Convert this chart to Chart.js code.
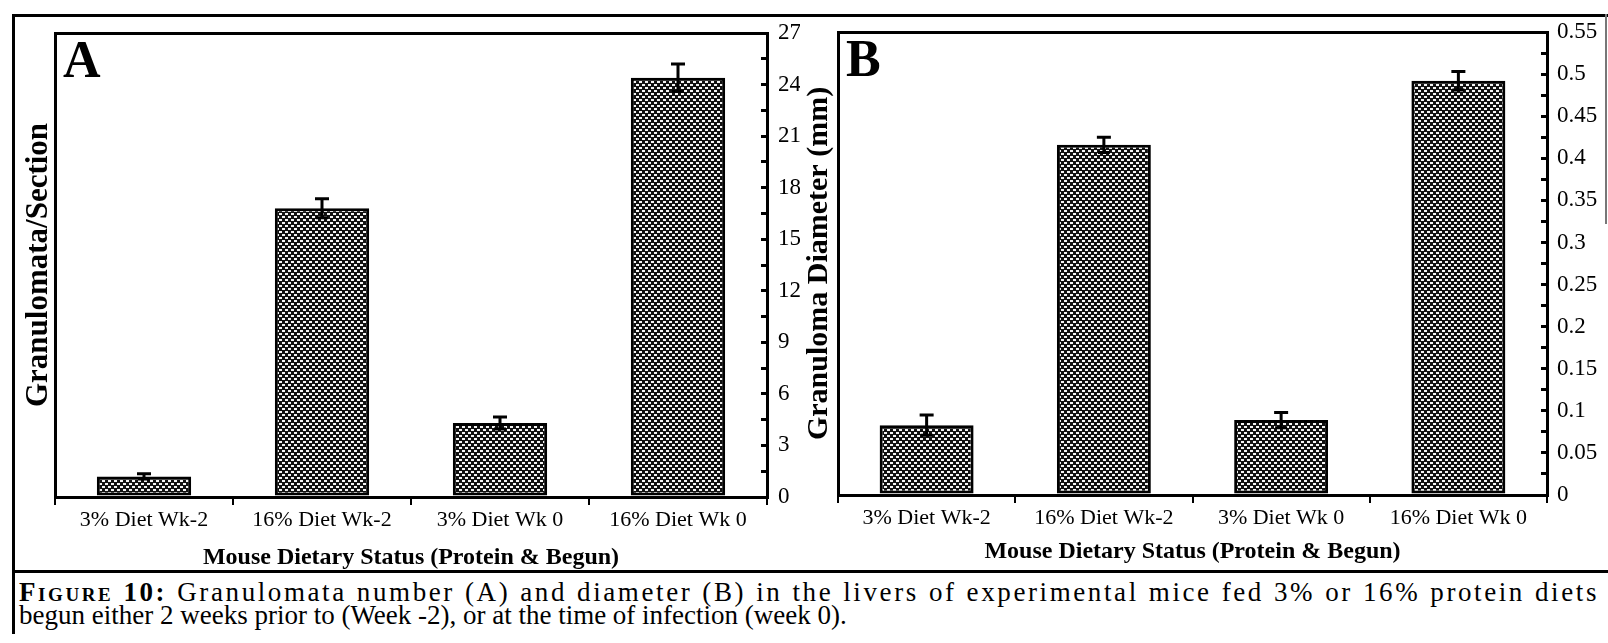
<!DOCTYPE html>
<html>
<head>
<meta charset="utf-8">
<script src="https://cdn.jsdelivr.net/npm/chart.js@4/dist/chart.umd.min.js"></script>
<style>
  body { margin: 0; background: #fff; }
  #page { position: relative; width: 1608px; height: 643px; overflow: hidden; background: #fff; }
  .rule { position: absolute; background: #000; }
  canvas { position: absolute; top: 0; }
  #caption { position: absolute; left: 19px; top: 581px; width: 1580px; font-family: "Liberation Serif", "Times New Roman", serif; font-size: 27px; color: #000; line-height: 23px; }
  #caption .l1 { text-align: justify; text-align-last: justify; white-space: nowrap; letter-spacing: 2.6px; }
  #caption b { font-variant: small-caps; }
</style>
</head>
<body>
<div id="page">
  <div class="rule" style="left:12px; top:14px; width:1596px; height:3px;"></div>
  <div class="rule" style="left:12px; top:14px; width:3px; height:620px;"></div>
  <div class="rule" style="left:12px; top:570px; width:1596px; height:3px;"></div>
  <div class="rule" style="left:1605px; top:14px; width:2px; height:210px; background:#777;"></div>
  <canvas id="chartA" style="left:0;"></canvas>
  <canvas id="chartB" style="left:800px;"></canvas>
  <div id="caption">
    <div class="l1"><b>Figure 10:</b> Granulomata number (A) and diameter (B) in the livers of experimental mice fed 3% or 16% protein diets</div>
    <div>begun either 2 weeks prior to (Week -2), or at the time of infection (week 0).</div>
  </div>
</div>
<script>
// data
const categories = ['3% Diet Wk-2', '16% Diet Wk-2', '3% Diet Wk 0', '16% Diet Wk 0'];
const granulomaCount = [1.2, 16.8, 4.3, 24.4];
const granulomaCountErr = [0.15, 0.55, 0.35, 0.8];
const granulomaDiameter = [0.083, 0.416, 0.089, 0.492];
const granulomaDiameterErr = [0.012, 0.009, 0.009, 0.011];
const yTickLabelsA = [0, 3, 6, 9, 12, 15, 18, 21, 24, 27];
const yTickLabelsB = [0, 0.05, 0.1, 0.15, 0.2, 0.25, 0.3, 0.35, 0.4, 0.45, 0.5, 0.55];

const serif = '"Liberation Serif", "Times New Roman", serif';
const black = '#000';

// checker fill used by the bars
function makePattern() {
  const c = document.createElement('canvas');
  c.width = 6; c.height = 6;
  const g = c.getContext('2d');
  g.fillStyle = '#111';
  g.fillRect(0, 0, 6, 6);
  g.fillStyle = '#f4f4f4';
  g.fillRect(0, 0, 3, 2);
  g.fillRect(3, 3, 3, 2);
  return g.createPattern(c, 'repeat');
}

// error bars + panel letter
const extras = {
  id: 'extras',
  afterDatasetsDraw(chart, args, opts) {
    const ctx = chart.ctx;
    const y = chart.scales.y;
    const meta = chart.getDatasetMeta(0);
    const vals = chart.data.datasets[0].data;
    ctx.save();
    ctx.strokeStyle = black;
    ctx.lineWidth = 3;
    meta.data.forEach((bar, i) => {
      const top = y.getPixelForValue(vals[i] + opts.err[i]);
      const bot = y.getPixelForValue(vals[i] - opts.err[i]);
      ctx.beginPath();
      ctx.moveTo(bar.x, top); ctx.lineTo(bar.x, bot);
      ctx.moveTo(bar.x - 7, top); ctx.lineTo(bar.x + 7, top);
      ctx.moveTo(bar.x - 6, bot); ctx.lineTo(bar.x + 6, bot);
      ctx.stroke();
    });
    ctx.fillStyle = black;
    ctx.font = 'bold 52px ' + serif;
    ctx.textBaseline = 'top';
    ctx.fillText(opts.letter, chart.chartArea.left + 8, chart.chartArea.top + 5);
    ctx.restore();
  }
};

function tickLabel(list) {
  return function (value) {
    const hit = list.find(v => Math.abs(v - value) < 1e-6);
    return hit === undefined ? '' : String(hit);
  };
}

function makeChart(id, opts) {
  const el = document.getElementById(id);
  el.width = opts.width; el.height = opts.height;
  el.style.width = opts.width + 'px'; el.style.height = opts.height + 'px';
  return new Chart(el.getContext('2d'), {
    type: 'bar',
    data: {
      labels: categories,
      datasets: [{
        data: opts.values,
        backgroundColor: makePattern(),
        borderColor: black,
        borderWidth: 3,
        borderSkipped: false,
        categoryPercentage: 1,
        barPercentage: 0.53,
        xAxisID: 'x',
        yAxisID: 'y'
      }]
    },
    options: {
      responsive: false,
      animation: false,
      events: [],
      layout: { padding: 0 },
      plugins: {
        legend: { display: false },
        tooltip: { enabled: false },
        extras: { err: opts.errors, letter: opts.letter }
      },
      scales: {
        xTop: {
          type: 'category',
          position: 'top',
          ticks: { display: false },
          grid: { display: false },
          border: { display: true, color: black, width: 3 },
          afterFit: s => { s.height = opts.top; }
        },
        x: {
          type: 'category',
          position: 'bottom',
          grid: { offset: true, drawOnChartArea: false, drawTicks: true, tickLength: 8, color: black, lineWidth: 2 },
          border: { display: true, color: black, width: 3 },
          ticks: { color: black, font: { family: serif, size: 22 }, padding: 2, maxRotation: 0, autoSkip: false },
          title: { display: true, text: 'Mouse Dietary Status (Protein & Begun)', color: black, font: { family: serif, size: 24, weight: 'bold' }, padding: { top: 2, bottom: 0 } },
          afterFit: s => { s.height = opts.height - opts.bottom; }
        },
        yL: {
          position: 'left',
          min: 0, max: opts.max,
          ticks: { display: false },
          grid: { display: false },
          border: { display: true, color: black, width: 3 },
          title: { display: true, text: opts.yTitle, color: black, font: { family: serif, size: opts.titleSize, weight: 'bold' }, padding: { top: opts.titlePad, bottom: 0 } },
          afterFit: s => { s.width = opts.left; }
        },
        y: {
          position: 'right',
          min: 0, max: opts.max,
          ticks: { stepSize: opts.step, color: black, font: { family: serif, size: 23 }, padding: opts.tickPad, autoSkip: false, callback: tickLabel(opts.tickLabels) },
          grid: { drawOnChartArea: false, drawTicks: true, tickLength: -6, color: black, lineWidth: 3 },
          border: { display: true, color: black, width: 3 },
          afterFit: s => { s.width = opts.width - opts.right; }
        }
      }
    },
    plugins: [extras]
  });
}

makeChart('chartA', {
  width: 800, height: 572, left: 55, right: 767, top: 33, bottom: 497,
  values: granulomaCount, errors: granulomaCountErr,
  max: 27, step: 1.5, tickLabels: yTickLabelsA, tickPad: 17,
  yTitle: 'Granulomata/Section', titleSize: 31, titlePad: 20, letter: 'A'
});

makeChart('chartB', {
  width: 808, height: 566, left: 38, right: 747, top: 32, bottom: 495,
  values: granulomaDiameter, errors: granulomaDiameterErr,
  max: 0.55, step: 0.025, tickLabels: yTickLabelsB, tickPad: 16,
  yTitle: 'Granuloma Diameter (mm)', titleSize: 30, titlePad: 1, letter: 'B'
});
</script>
</body>
</html>
